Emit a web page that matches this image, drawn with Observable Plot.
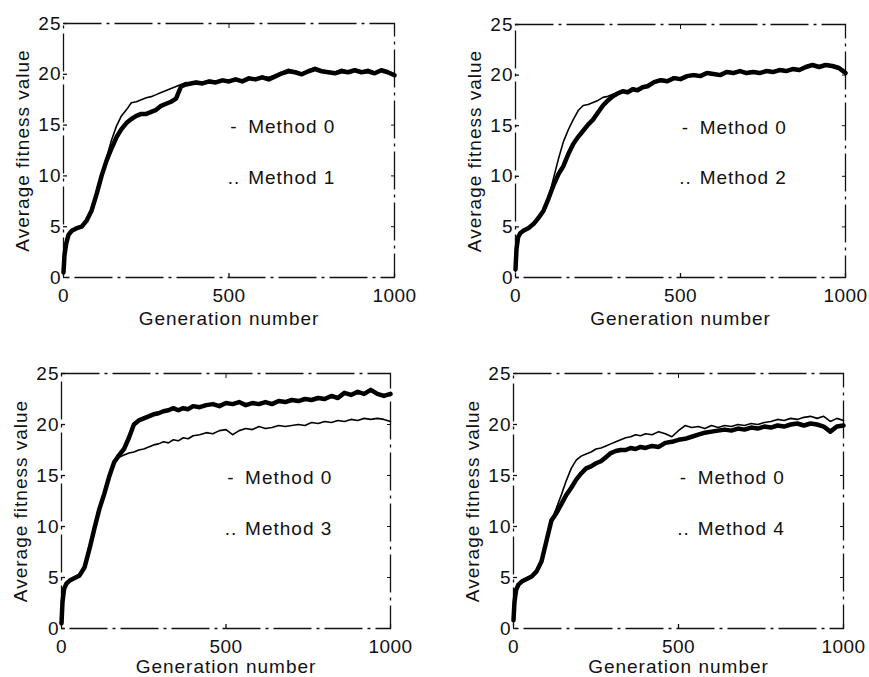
<!DOCTYPE html>
<html><head><meta charset="utf-8">
<script src="https://cdn.jsdelivr.net/npm/d3@7"></script>
<script src="https://cdn.jsdelivr.net/npm/@observablehq/plot@0.6"></script>
<style>
body{margin:0;background:#fff;}
#wrap{position:relative;width:869px;height:677px;overflow:hidden;background:#fff;}
#wrap svg{position:absolute;}
#wrap svg text{letter-spacing:1px;}
#wrap svg g[aria-label="x-axis tick label"] text{letter-spacing:0.4px;}
</style></head><body><div id="wrap"></div>
<script>
// ---- data ----
const generations = [0,3,8,15,25,40,55,70,85,100,115,130,145,160,175,190,205,220,235,250,265,280,295,310,325,340,355,370,385,400,
  420,440,460,480,500,520,540,560,580,600,620,640,660,680,700,720,740,760,780,800,820,840,860,880,900,920,940,960,980,1000];

const p1Method0 = [0.5,2.2,3.3,4.2,4.6,4.85,5.0,5.6,6.6,8.2,10.0,11.5,12.7,13.8,14.6,15.2,15.6,15.9,16.1,16.1,16.3,16.5,16.9,17.1,17.3,17.6,18.8,19.0,19.1,19.2,
  19.1,19.3,19.2,19.4,19.3,19.5,19.3,19.6,19.5,19.7,19.5,19.8,20.1,20.3,20.2,20.0,20.3,20.5,20.3,20.2,20.1,20.3,20.2,20.4,20.2,20.3,20.1,20.4,20.2,19.9];
const p1Method1 = [0.5,2.2,3.3,4.2,4.6,4.85,5.0,5.6,6.6,8.2,10.0,11.8,13.5,14.9,15.9,16.5,17.2,17.3,17.5,17.7,17.8,18.0,18.2,18.4,18.6,18.8,19.0,19.2,19.1,19.3,
  19.2,19.4,19.3,19.5,19.4,19.6,19.4,19.7,19.6,19.8,19.7,19.9,20.2,20.5,20.3,20.1,20.4,20.7,20.4,20.3,20.2,20.5,20.3,20.5,20.3,20.5,20.2,20.5,20.3,20.0];

const p2Method0 = [0.8,2.8,4.0,4.4,4.65,4.9,5.3,5.9,6.6,7.8,9.1,10.2,11.0,12.2,13.2,13.9,14.5,15.1,15.6,16.3,17.0,17.5,17.9,18.2,18.4,18.3,18.6,18.5,18.8,18.9,
  19.3,19.5,19.4,19.7,19.6,19.9,20.0,19.9,20.2,20.1,20.0,20.3,20.2,20.4,20.2,20.3,20.2,20.4,20.3,20.5,20.4,20.6,20.5,20.8,21.0,20.8,21.0,20.9,20.7,20.2];
const p2Method2 = [0.8,2.8,4.0,4.4,4.65,4.9,5.3,5.9,6.6,7.8,9.8,11.7,13.4,14.6,15.6,16.5,17.0,17.1,17.3,17.5,17.8,17.9,18.1,18.3,18.5,18.4,18.7,18.6,18.9,19.0,
  19.4,19.6,19.5,19.8,19.7,20.0,20.1,20.0,20.3,20.2,20.1,20.4,20.3,20.5,20.3,20.4,20.3,20.5,20.4,20.6,20.5,20.7,20.6,20.9,21.1,20.9,21.1,21.0,20.8,20.4];

const p3Method0 = [0.5,2.6,3.9,4.4,4.7,4.95,5.2,6.0,7.8,9.8,11.7,13.2,14.9,16.3,17.0,17.6,18.7,20.0,20.4,20.6,20.8,21.0,21.1,21.3,21.4,21.6,21.4,21.6,21.5,21.8,
  21.7,21.9,22.0,21.8,22.1,22.0,22.2,21.9,22.1,22.0,22.2,22.0,22.3,22.2,22.4,22.3,22.5,22.4,22.6,22.5,22.8,22.6,23.1,22.9,23.2,23.0,23.4,23.0,22.8,23.0];
const p3Method3 = [0.5,2.6,3.9,4.4,4.7,4.95,5.2,6.0,7.8,9.8,11.7,13.2,14.9,16.3,16.8,17.0,17.2,17.3,17.5,17.6,17.8,18.0,18.1,18.3,18.2,18.5,18.4,18.7,18.6,18.9,
  19.0,19.2,19.1,19.4,19.5,19.0,19.4,19.6,19.5,19.8,19.6,19.7,19.9,19.8,19.9,20.0,19.9,20.2,20.1,20.3,20.2,20.4,20.3,20.5,20.4,20.6,20.5,20.6,20.5,20.3];

const p4Method0 = [0.8,2.6,3.8,4.3,4.6,4.85,5.1,5.6,6.6,8.6,10.6,11.3,12.2,13.1,13.8,14.6,15.2,15.7,15.9,16.2,16.4,16.8,17.2,17.4,17.5,17.5,17.7,17.6,17.8,17.7,
  17.9,17.8,18.2,18.3,18.5,18.6,18.8,19.0,19.2,19.3,19.4,19.5,19.4,19.6,19.5,19.7,19.6,19.8,19.7,19.9,19.8,20.0,20.1,19.9,20.1,20.0,19.8,19.3,19.8,19.9];
const p4Method4 = [0.8,2.6,3.8,4.3,4.6,4.85,5.1,5.6,6.6,8.6,10.6,11.8,13.1,14.5,15.7,16.5,16.9,17.1,17.3,17.6,17.7,17.9,18.1,18.3,18.5,18.7,18.8,19.0,18.9,19.1,
  19.0,19.3,19.1,18.8,19.4,19.9,19.7,19.8,19.6,19.9,19.7,19.9,19.8,20.0,19.9,20.1,20.0,20.2,20.3,20.5,20.4,20.6,20.5,20.7,20.8,20.6,20.8,20.3,20.6,20.4];

const seriesNames = ["Method 0", "Method 1", "Method 2", "Method 3", "Method 4"];
const legendSymbols = ["-", ".."];
const xTicks = [0, 500, 1000];
const yTicks = [0, 5, 10, 15, 20, 25];
const xLabel = "Generation number";
const yLabel = "Average fitness value";

// ---- layout ----
const panels = [
  {base: p1Method0, other: p1Method1, name: seriesNames[1], fx: 63, fy: 23, fw: 331, fh: 254, labelDy: 41},
  {base: p2Method0, other: p2Method2, name: seriesNames[2], fx: 515, fy: 24, fw: 330, fh: 253, labelDy: 41},
  {base: p3Method0, other: p3Method3, name: seriesNames[3], fx: 61, fy: 373, fw: 329, fh: 255, labelDy: 38},
  {base: p4Method0, other: p4Method4, name: seriesNames[4], fx: 513, fy: 373, fw: 330, fh: 255, labelDy: 38}
];

const wrap = document.getElementById("wrap");
const mL = 61, mT = 23, mR = 30, mB = 60;
const FS = 19;
const font = "'Liberation Sans', Arial, sans-serif";

for (const p of panels) {
  const rowsBase = generations.map((g, i) => ({g, v: p.base[i]}));
  const rowsOther = generations.map((g, i) => ({g, v: p.other[i]}));
  const legend = [
    {sym: legendSymbols[0], label: seriesNames[0], v: 14.8},
    {sym: legendSymbols[1], label: p.name, v: 9.8}
  ];
  const chart = Plot.plot({
    width: mL + p.fw + mR,
    height: mT + p.fh + mB,
    marginLeft: mL, marginTop: mT, marginRight: mR, marginBottom: mB,
    style: {fontFamily: font, fontSize: FS + "px", color: "#111", background: "transparent", overflow: "visible"},
    x: {domain: [0, 1000], axis: null},
    y: {domain: [0, 25], axis: null},
    marks: [
      Plot.frame({stroke: "#111", strokeWidth: 1.3, strokeDasharray: "38,5,3,5"}),
      Plot.axisY({ticks: yTicks, tickSize: -4, tickPadding: 6, label: null, stroke: "#111", strokeWidth: 1.3,
        fontSize: FS, tickFormat: d => String(d)}),
      Plot.axisY({anchor: "right", ticks: yTicks.slice(1, -1), tickSize: -4, tickFormat: () => "", label: null, stroke: "#111"}),
      Plot.axisX({ticks: xTicks, tickSize: -4, tickPadding: 15, label: null, stroke: "#111", strokeWidth: 1.3,
        fontSize: FS, tickFormat: d => String(d)}),
      Plot.axisX({anchor: "top", ticks: [500], tickSize: -4, tickFormat: () => "", label: null, stroke: "#111"}),
      Plot.text([xLabel], {frameAnchor: "bottom", dy: p.labelDy, lineAnchor: "middle", textAnchor: "middle", text: d => d,
        fill: "#111", fontSize: FS}),
      Plot.text([yLabel], {frameAnchor: "left", dx: -41, rotate: -90, lineAnchor: "middle", textAnchor: "middle", text: d => d,
        fill: "#111", fontSize: FS}),
      Plot.line(rowsBase, {x: "g", y: "v", stroke: "#000", strokeWidth: 4.5, strokeLinejoin: "round"}),
      Plot.line(rowsOther, {x: "g", y: "v", stroke: "#000", strokeWidth: 1.6, strokeLinejoin: "round"}),
      Plot.text(legend, {x: 515, y: "v", text: "sym", textAnchor: "middle", fill: "#111", fontSize: FS}),
      Plot.text(legend, {x: 558, y: "v", text: "label", textAnchor: "start", fill: "#111", fontSize: FS})
    ]
  });
  chart.style.left = (p.fx - mL) + "px";
  chart.style.top = (p.fy - mT) + "px";
  wrap.appendChild(chart);
}
</script></body></html>
